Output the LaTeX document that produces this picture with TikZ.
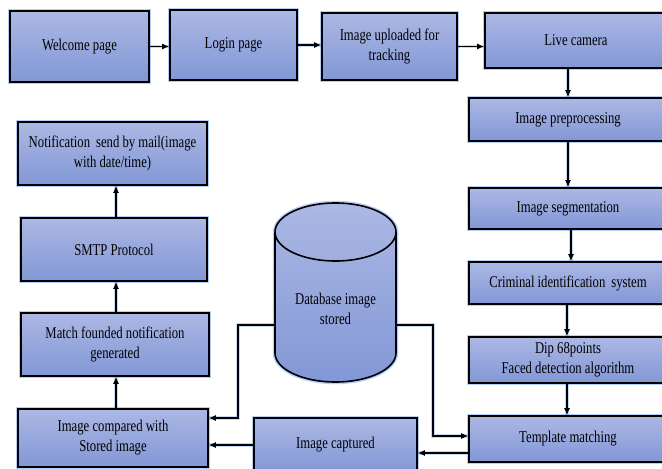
\documentclass[tikz,border=0pt]{standalone}
\usepackage{fontspec}
\setmainfont{Liberation Serif}[FakeStretch=0.77]
\usetikzlibrary{arrows.meta}
\definecolor{boxtop}{RGB}{172,184,228}
\definecolor{boxbot}{RGB}{130,151,214}
\definecolor{glow}{RGB}{90,150,240}
\tikzset{
  box/.style={draw=black, line width=1.6pt, top color=boxtop, bottom color=boxbot,
    inner sep=0pt, align=center, font=\fontsize{16.5}{20}\selectfont,
    preaction={draw=glow, line width=4.5pt, opacity=0.45}},
  conn/.style={draw=black, line width=1.6pt, -{Latex[length=7pt,width=6pt]},
    preaction={draw=glow, line width=3.5pt, opacity=0.35, -}},
  plainconn/.style={draw=black, line width=1.6pt,
    preaction={draw=glow, line width=3.5pt, opacity=0.35}},
}
\begin{document}
\begin{tikzpicture}[x=1pt,y=-1pt]
\useasboundingbox (0,0) rectangle (662,469);
\clip (0,0) rectangle (662,469);
% top row
\node[box, minimum width=139pt, minimum height=71pt] (welcome) at (79.5,46.5) {Welcome page};
\node[box, minimum width=127pt, minimum height=70pt] (login) at (233.5,45) {Login page};
\node[box, minimum width=135pt, minimum height=67pt] (upload) at (389.5,46.5) {Image uploaded for\\tracking};
\node[box, minimum width=182pt, minimum height=55pt] (live) at (576,40.5) {Live camera};
% right column
\node[box, minimum width=198pt, minimum height=43pt] (prep) at (568,119.5) {Image preprocessing};
\node[box, minimum width=198pt, minimum height=41pt] (seg) at (568,208.5) {Image segmentation};
\node[box, minimum width=198pt, minimum height=42pt] (crim) at (568,283) {Criminal identification\, system};
\node[box, minimum width=198pt, minimum height=46pt] (dip) at (568,360) {Dip 68points\\Faced detection algorithm};
\node[box, minimum width=198pt, minimum height=46pt] (tmpl) at (568,439) {Template matching};
% bottom
\node[box, minimum width=163pt, minimum height=54pt] (captured) at (335.5,445) {Image captured};
% left column
\node[box, minimum width=190pt, minimum height=58pt] (compared) at (113,438) {Image compared with\\Stored image};
\node[box, minimum width=188pt, minimum height=63pt] (match) at (115,344.5) {Match founded notification\\generated};
\node[box, minimum width=186pt, minimum height=63pt] (smtp) at (114,249.5) {SMTP Protocol};
\node[box, minimum width=189pt, minimum height=63pt] (notif) at (112.5,153.5) {Notification\, send by mail(image\\with date/time)};
% database cylinder
\node[minimum width=121pt, minimum height=179pt, inner sep=0pt] (db) at (335.5,292.5) {};
\path[top color=boxtop, bottom color=boxbot, preaction={draw=glow, line width=4.5pt, opacity=0.45}]
  (275,232) arc[start angle=180, end angle=0, x radius=60.5, y radius=-29]
  -- (396,353) arc[start angle=0, end angle=-180, x radius=60.5, y radius=-29] -- cycle;
\draw[line width=1.6pt]
  (275,232) arc[start angle=180, end angle=0, x radius=60.5, y radius=-29]
  -- (396,353) arc[start angle=0, end angle=-180, x radius=60.5, y radius=-29] -- cycle;
\draw[line width=1.6pt] (275,232) arc[start angle=180, end angle=360, x radius=60.5, y radius=-29];
\node[align=center, font=\fontsize{16.5}{20}\selectfont] (dbtext) at (335.5,309) {Database image\\stored};
\coordinate (dbL) at (275,325);
\coordinate (dbR) at (396,325);
\coordinate (lx) at (116,0);
% connectors top row
\draw[conn] (welcome.east) -- (welcome.east -| login.west);
\draw[conn] (login.east) -- (login.east -| upload.west);
\draw[conn] (upload.east) -- (upload.east -| live.west);
% right column
\draw[conn] (live.south -| prep.north) -- (prep.north);
\draw[conn] (prep.south) -- (seg.north);
\draw[conn] ([xshift=3pt]seg.south) -- ([xshift=3pt]crim.north);
\draw[conn] ([xshift=-1pt]crim.south) -- ([xshift=-1pt]dip.north);
\draw[conn] ([xshift=-1pt]dip.south) -- ([xshift=-1pt]tmpl.north);
% bottom
\draw[conn] ([yshift=-14pt]tmpl.west) -- ([yshift=-14pt]tmpl.west -| captured.east);
\draw[conn] (captured.west) -- (captured.west -| compared.east);
% database links
\draw[conn] (dbL) -- (238,325) |- ([yshift=20pt]compared.east);
\draw[conn] (dbR) -- (433,325) |- ([yshift=3pt]tmpl.west);
% left column
\draw[conn] (compared.north -| lx) -- (match.south -| lx);
\draw[conn] (match.north -| lx) -- (smtp.south -| lx);
\draw[conn] (smtp.north -| lx) -- (notif.south -| lx);
\end{tikzpicture}
\end{document}
